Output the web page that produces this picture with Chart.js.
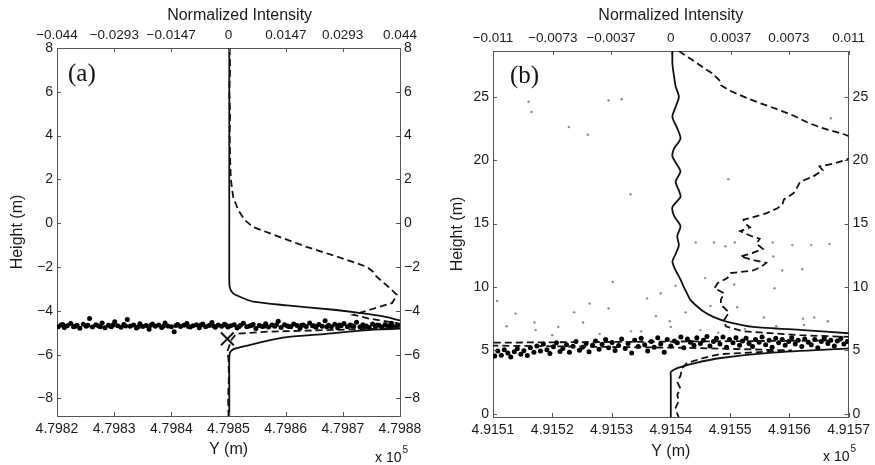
<!DOCTYPE html>
<html>
<head>
<meta charset="utf-8">
<script src="https://cdn.jsdelivr.net/npm/chart.js@4.4.1/dist/chart.umd.min.js"></script>
<style>
  body { margin: 0; background: #fff; }
  #wrap { position: relative; width: 875px; height: 465px; }
  canvas { position: absolute; top: 0; }
  #ca { left: 0; }
  #cb { left: 440px; }
</style>
</head>
<body>
<div id="wrap">
  <canvas id="ca" width="440" height="465"></canvas>
  <canvas id="cb" width="435" height="465"></canvas>
</div>
<script>
// ---- panel (a) ----
var aYTicks = [479820, 479830, 479840, 479850, 479860, 479870, 479880];
var aTopTicks = [-0.044, -0.0293, -0.0147, 0, 0.0147, 0.0293, 0.044];
var aHeightTicks = [-8, -6, -4, -2, 0, 2, 4, 6, 8];

// solid profile: height (m) / normalized intensity
var aSolidH = [8, 4, 0, -2, -2.9, -3.2, -3.4, -3.58, -3.75, -3.95, -4.1, -4.26, -4.44, -4.6, -4.75, -4.9, -5.05, -5.2, -5.4, -5.6, -5.75, -5.9, -6.2, -7, -8.8];
var aSolidI = [0.0002, 0.0002, 0.0002, 0.0002, 0.0003, 0.0012, 0.0035, 0.0063, 0.015, 0.027, 0.034, 0.04, 0.044, 0.047, 0.048, 0.034, 0.025, 0.015, 0.009, 0.0045, 0.0013, 0.0004, 0.0002, 0.0002, 0.0002];

// dashed profile
var aDashH = [8, 7, 6, 5, 4, 3, 2, 1.2, 0.6, 0.14, -0.17, -0.62, -1.08, -1.53, -1.99, -2.2, -2.44, -2.9, -3.27, -3.64, -3.95, -4.18, -4.35, -4.55, -4.7, -4.8, -4.88, -4.95, -5.05, -5.3, -5.6, -5.85, -6.2, -7, -8, -8.8];
var aDashI = [0.0003, 0.0004, 0.0002, 0.0004, 0.0003, 0.0004, 0.0006, 0.0012, 0.0025, 0.0042, 0.0063, 0.013, 0.02, 0.028, 0.0355, 0.037, 0.038, 0.041, 0.0432, 0.042, 0.0363, 0.032, 0.036, 0.043, 0.046, 0.04, 0.025, 0.01, 0.002, 0.0008, 0.0002, -0.0003, 0, 0.0001, -0.0001, 0];

// ground points: Y (m), height (m)
var aDots = [
  [479820.2, -4.72], [479820.7, -4.64], [479821.3, -4.76], [479821.8, -4.68], [479822.4, -4.58], [479822.9, -4.73], [479823.5, -4.66], [479824.0, -4.79],
  [479824.6, -4.61], [479825.1, -4.70], [479825.7, -4.35], [479826.2, -4.74], [479826.8, -4.63], [479827.3, -4.69], [479827.9, -4.56], [479828.4, -4.77],
  [479829.0, -4.66], [479829.5, -4.72], [479830.1, -4.50], [479830.6, -4.68], [479831.2, -4.75], [479831.7, -4.62], [479832.3, -4.40], [479832.8, -4.70],
  [479833.4, -4.65], [479833.9, -4.78], [479834.5, -4.59], [479835.0, -4.71], [479835.6, -4.67], [479836.1, -4.84], [479836.7, -4.60], [479837.2, -4.70],
  [479837.8, -4.64], [479838.3, -4.76], [479838.9, -4.55], [479839.4, -4.69], [479840.0, -4.73], [479840.5, -4.95], [479841.1, -4.62], [479841.6, -4.71],
  [479842.2, -4.66], [479842.7, -4.58], [479843.3, -4.74], [479843.8, -4.68], [479844.4, -4.63], [479844.9, -4.77], [479845.5, -4.60], [479846.0, -4.72],
  [479846.6, -4.67], [479847.1, -4.53], [479847.7, -4.75], [479848.2, -4.65], [479848.8, -4.70], [479849.3, -4.61], [479849.9, -4.74], [479850.4, -4.68],
  [479851.0, -4.63], [479851.5, -4.78], [479852.1, -4.66], [479852.6, -4.57], [479853.2, -4.72], [479853.7, -4.69], [479854.3, -4.62], [479854.8, -4.80],
  [479855.4, -4.67], [479855.9, -4.71], [479856.5, -4.59], [479857.0, -4.74], [479857.6, -4.65], [479858.1, -4.70], [479858.7, -4.48], [479859.2, -4.76],
  [479859.8, -4.63], [479860.3, -4.69], [479860.9, -4.73], [479861.4, -4.60], [479862.0, -4.67], [479862.5, -4.79], [479863.1, -4.64], [479863.6, -4.71],
  [479864.2, -4.56], [479864.7, -4.68], [479865.3, -4.75], [479865.8, -4.62], [479866.4, -4.70], [479866.9, -4.45], [479867.5, -4.66], [479868.0, -4.73],
  [479868.6, -4.61], [479869.1, -4.77], [479869.7, -4.68], [479870.2, -4.58], [479870.8, -4.72], [479871.3, -4.65], [479871.9, -4.70], [479872.4, -4.52],
  [479873.0, -4.74], [479873.5, -4.63], [479874.1, -4.69], [479874.6, -4.76], [479875.2, -4.60], [479875.7, -4.71], [479876.3, -4.66], [479876.8, -4.74],
  [479877.4, -4.62], [479877.9, -4.69], [479878.5, -4.57], [479879.0, -4.72], [479879.6, -4.66],
  [479821.0, -4.62], [479823.2, -4.70], [479825.4, -4.66], [479827.6, -4.73], [479829.8, -4.64], [479832.0, -4.69], [479834.2, -4.72], [479836.4, -4.66],
  [479838.6, -4.70], [479840.8, -4.67], [479843.0, -4.71], [479845.2, -4.64], [479847.4, -4.69], [479849.6, -4.66], [479851.8, -4.72], [479854.0, -4.67],
  [479856.2, -4.70], [479858.4, -4.63], [479860.6, -4.71], [479862.8, -4.66], [479865.0, -4.69], [479867.2, -4.72], [479869.4, -4.64], [479871.6, -4.68],
  [479873.8, -4.71], [479876.0, -4.65], [479878.2, -4.70]
];
var aMark = [[479849.8, -5.28]];

// ---- panel (b) ----
var bYTicks = [491510, 491520, 491530, 491540, 491550, 491560, 491570];
var bTopTicks = [-0.011, -0.0073, -0.0037, 0, 0.0037, 0.0073, 0.011];
var bHeightTicks = [0, 5, 10, 15, 20, 25];

var bSolidH = [28.6, 27.6, 26.6, 25.8, 25.0, 24.2, 23.4, 22.5, 21.7, 20.9, 20.3, 19.6, 19.1, 18.3, 17.6, 17.1, 16.3, 15.6, 14.8, 14.0, 13.3, 12.6, 12.0, 11.3, 10.6, 10.0, 9.5, 9.0, 8.5, 8.0, 7.6, 7.25, 6.85, 6.6, 6.35, 6.0, 5.6, 5.2, 4.8, 4.4, 4.0, 3.6, 3.3, 3.0, -0.3];
var bSolidI = [0.0001, 0.0001, 0.0002, 0.0003, 0.0005, 0.0003, 0.0001, 0.0004, 0.0006, 0.0002, 0.0001, 0.0004, 0.0006, 0.0003, 0.0005, 0.0006, 0.0001, 0.0002, 0.0006, 0.0004, 0.0005, 0.0003, 0.0001, 0.0003, 0.0006, 0.0008, 0.001, 0.0012, 0.0016, 0.0021, 0.0027, 0.0035, 0.0051, 0.0082, 0.011, 0.014, 0.015, 0.0115, 0.0061, 0.0031, 0.0015, 0.0004, 0, 0, 0];

var bDashH = [28.6, 28.0, 27.3, 26.8, 26.3, 25.9, 25.5, 25.0, 24.5, 24.0, 23.5, 23.0, 22.6, 22.0, 21.5, 21.0, 20.4, 20.0, 19.7, 19.5, 19.2, 18.7, 18.3, 17.8, 17.4, 16.9, 16.5, 16.2, 15.8, 15.5, 15.3, 15.0, 14.7, 14.4, 14.0, 13.8, 13.4, 13.0, 12.6, 12.4, 12.1, 11.9, 11.6, 11.3, 11.1, 10.7, 10.3, 9.9, 9.5, 9.0, 8.6, 8.0, 7.4, 6.9, 6.5, 6.2, 6.0, 5.8, 5.6, 5.4, 5.2, 5.0, 4.9, 4.7, 4.4, 4.0, 3.6, 3.0, 2.5, 2.0, 1.5, 1.0, 0.5, 0.0, -0.3];
var bDashI = [0.0005, 0.0012, 0.002, 0.0026, 0.003, 0.0031, 0.0036, 0.0045, 0.0055, 0.0066, 0.0076, 0.0084, 0.0092, 0.0108, 0.0118, 0.0125, 0.0115, 0.0108, 0.01, 0.0092, 0.0094, 0.0088, 0.008, 0.0078, 0.0076, 0.007, 0.0069, 0.0066, 0.0059, 0.0051, 0.0045, 0.0046, 0.0049, 0.0043, 0.005, 0.0055, 0.0053, 0.0057, 0.0049, 0.0043, 0.0052, 0.0059, 0.0056, 0.0051, 0.0037, 0.0035, 0.0029, 0.0027, 0.0033, 0.0031, 0.0031, 0.0036, 0.0033, 0.0034, 0.0045, 0.008, 0.0125, 0.013, -0.012, -0.0125, 0.001, 0.0075, 0.006, 0.003, 0.002, 0.001, 0.0007, 0.0006, 0.0004, 0.0006, 0.0004, 0.0005, 0.0003, 0.0004, 0.0005];

var bDots = [
  [491510.3, 4.55], [491510.8, 4.95], [491511.4, 4.62], [491511.9, 5.05], [491512.5, 4.80], [491513.0, 4.48], [491513.6, 4.90], [491514.1, 5.12],
  [491514.7, 4.70], [491515.2, 4.98], [491515.8, 4.60], [491516.3, 5.20], [491516.9, 4.85], [491517.4, 5.35], [491518.0, 4.95], [491518.5, 5.50],
  [491519.1, 5.05], [491519.6, 4.75], [491520.2, 5.28], [491520.7, 5.60], [491521.3, 4.92], [491521.8, 5.15], [491522.4, 5.45], [491522.9, 4.85],
  [491523.5, 5.32], [491524.0, 5.70], [491524.6, 5.02], [491525.1, 5.25], [491525.7, 5.55], [491526.2, 4.90], [491526.8, 5.40], [491527.3, 5.75],
  [491527.9, 5.10], [491528.4, 5.48], [491529.0, 5.85], [491529.5, 5.20], [491530.1, 5.62], [491530.6, 5.00], [491531.2, 5.38], [491531.7, 5.90],
  [491532.3, 5.15], [491532.8, 5.55], [491533.4, 4.80], [491533.9, 5.80], [491534.5, 5.30], [491535.0, 5.95], [491535.6, 5.45], [491536.1, 4.95],
  [491536.7, 5.70], [491537.2, 5.25], [491537.8, 6.00], [491538.3, 5.50], [491538.9, 4.85], [491539.4, 5.85], [491540.0, 5.35], [491540.6, 5.75],
  [491541.1, 5.60], [491541.7, 6.05], [491542.2, 5.20], [491542.8, 5.90], [491543.3, 5.65], [491543.9, 5.40], [491544.4, 6.00], [491545.0, 5.55],
  [491545.5, 5.80], [491546.1, 6.10], [491546.6, 5.35], [491547.2, 5.70], [491547.7, 5.95], [491548.3, 5.50], [491548.8, 6.05], [491549.4, 5.25],
  [491549.9, 5.85], [491550.5, 5.60], [491551.0, 6.00], [491551.6, 5.40], [491552.1, 5.75], [491552.7, 5.95], [491553.2, 5.55], [491553.8, 5.30],
  [491554.3, 5.85], [491554.9, 5.65], [491555.4, 6.05], [491556.0, 5.45], [491556.6, 5.80], [491557.1, 5.25], [491557.7, 5.95], [491558.2, 5.60],
  [491558.8, 5.85], [491559.3, 5.40], [491559.9, 5.70], [491560.4, 6.00], [491561.0, 5.50], [491561.5, 5.80], [491562.1, 5.30], [491562.6, 5.90],
  [491563.2, 5.65], [491563.7, 5.45], [491564.3, 5.85], [491564.8, 5.20], [491565.4, 5.70], [491565.9, 5.95], [491566.5, 5.55], [491567.0, 5.80],
  [491567.6, 5.35], [491568.1, 5.75], [491568.7, 5.95], [491569.2, 5.50], [491569.8, 5.70]
];

var bGray = [
  [491516.0, 24.6], [491516.5, 23.8], [491529.5, 24.7], [491531.7, 24.8], [491567.0, 23.3], [491522.8, 22.6], [491526.0, 22.0],
  [491533.2, 17.3], [491549.7, 18.5], [491544.2, 13.5], [491547.3, 13.5], [491549.2, 13.2], [491550.8, 13.5], [491557.2, 13.5],
  [491560.5, 13.3], [491563.7, 13.3], [491566.8, 13.4], [491557.3, 12.4], [491558.8, 11.3], [491562.2, 11.4], [491530.2, 10.4],
  [491545.8, 10.7], [491550.7, 10.2], [491540.8, 10.1], [491557.5, 9.9], [491510.7, 8.9], [491536.0, 9.1], [491538.3, 9.5],
  [491526.3, 8.7], [491529.5, 8.3], [491513.8, 7.9], [491523.7, 8.0], [491542.5, 8.0], [491551.2, 8.4], [491546.7, 8.5],
  [491512.3, 6.9], [491517.0, 7.2], [491517.2, 6.6], [491521.0, 6.85], [491525.2, 7.2], [491533.3, 6.5], [491535.0, 6.5],
  [491537.5, 7.7], [491539.8, 7.3], [491540.0, 6.85], [491555.7, 7.6], [491557.8, 6.9], [491562.3, 7.5], [491562.5, 7.0],
  [491564.2, 7.6], [491566.5, 7.3], [491545.0, 6.6], [491548.0, 6.4], [491552.5, 6.7], [491528.0, 6.3], [491520.0, 6.2]
];

Chart.defaults.font.family = '"Liberation Sans", Arial, sans-serif';
Chart.defaults.color = '#1a1a1a';

function profile(h, v) {
  return h.map(function (y, i) { return { x: v[i], y: y }; });
}
function pts(list) {
  return list.map(function (p) { return { x: p[0], y: p[1] }; });
}
function fixTicks(values) {
  return function (scale) {
    scale.ticks = values.map(function (v) { return { value: v }; });
  };
}
function minus(v) {
  return v === 0 ? '0' : String(v).replace('-', '\u2212');
}

// inward tick marks, panel letter and the x 10^5 exponent
var frameMarks = {
  id: 'frameMarks',
  afterDraw: function (chart, args, o) {
    var ctx = chart.ctx, a = chart.chartArea;
    ctx.save();
    ctx.strokeStyle = '#555';
    ctx.lineWidth = 1;
    [['x', a.bottom, -1], ['x2', a.top, 1]].forEach(function (d) {
      var s = chart.scales[d[0]];
      s.ticks.forEach(function (t) {
        var p = Math.round(s.getPixelForValue(t.value)) + 0.5;
        ctx.beginPath();
        ctx.moveTo(p, d[1]);
        ctx.lineTo(p, d[1] + d[2] * 4);
        ctx.stroke();
      });
    });
    [['y', a.left, 1], ['y2', a.right, -1]].forEach(function (d) {
      var s = chart.scales[d[0]];
      s.ticks.forEach(function (t) {
        var p = Math.round(s.getPixelForValue(t.value)) + 0.5;
        ctx.beginPath();
        ctx.moveTo(d[1], p);
        ctx.lineTo(d[1] + d[2] * 4, p);
        ctx.stroke();
      });
    });
    ctx.fillStyle = '#111';
    ctx.textBaseline = 'alphabetic';
    ctx.font = '25px "Liberation Serif", "Times New Roman", serif';
    ctx.fillText(o.panel, o.px, o.py);
    ctx.font = '14px "Liberation Sans", Arial, sans-serif';
    ctx.fillText('x 10', o.ex, o.ey);
    var w = ctx.measureText('x 10').width;
    ctx.font = '10px "Liberation Sans", Arial, sans-serif';
    ctx.fillText('5', o.ex + w + 1, o.ey - 9);
    ctx.restore();
  }
};

function makePanel(id, c) {
  var lbl = { size: 14 };
  var ttl = { size: 16 };
  var common = {
    grid: { drawOnChartArea: false, drawTicks: false },
    border: { color: '#555', width: 1 }
  };
  new Chart(document.getElementById(id), {
    type: 'scatter',
    data: {
      datasets: [
        { data: profile(c.solidH, c.solidI), xAxisID: 'x2', yAxisID: 'y', showLine: true, pointRadius: 0,
          borderColor: '#111', borderWidth: 1.8, tension: 0.25 },
        { data: profile(c.dashH, c.dashI), xAxisID: 'x2', yAxisID: 'y', showLine: true, pointRadius: 0,
          borderColor: '#111', borderWidth: 1.8, borderDash: [7, 4], tension: 0 },
        { data: pts(c.mark || []), xAxisID: 'x', yAxisID: 'y', pointStyle: 'crossRot', pointRadius: 9,
          borderColor: '#111', borderWidth: 2 },
        { data: pts(c.dots), xAxisID: 'x', yAxisID: 'y', pointRadius: 2.5, borderWidth: 0,
          backgroundColor: '#000' },
        { data: pts(c.gray || []), xAxisID: 'x', yAxisID: 'y', pointRadius: 1.2, borderWidth: 0,
          backgroundColor: '#8a8a8a' }
      ]
    },
    options: {
      responsive: false,
      animation: false,
      layout: { padding: 0 },
      plugins: {
        legend: { display: false },
        tooltip: { enabled: false },
        frameMarks: c.marks
      },
      scales: {
        x: Object.assign({}, common, {
          type: 'linear', position: 'bottom', min: c.xTicks[0], max: c.xTicks[c.xTicks.length - 1],
          afterBuildTicks: fixTicks(c.xTicks),
          afterFit: function (s) { s.height = c.bottom; },
          ticks: { font: lbl, padding: 5, autoSkip: false, maxRotation: 0,
            callback: function (v) { return (v / 1e5).toFixed(4); } },
          title: { display: true, text: 'Y (m)', font: ttl, padding: { top: 0, bottom: c.yTitlePad } }
        }),
        x2: Object.assign({}, common, {
          type: 'linear', axis: 'x', position: 'top', min: c.topTicks[0], max: c.topTicks[c.topTicks.length - 1],
          afterBuildTicks: fixTicks(c.topTicks),
          afterFit: function (s) { s.height = c.top; },
          ticks: { font: { size: 13.5 }, padding: 5, autoSkip: false, maxRotation: 0, callback: minus },
          title: { display: true, text: c.topTitle, font: ttl, padding: { top: 6, bottom: 0 } }
        }),
        y: Object.assign({}, common, {
          type: 'linear', position: 'left', min: c.hMin, max: c.hMax,
          afterBuildTicks: fixTicks(c.hTicks),
          afterFit: function (s) { s.width = c.left; },
          ticks: { font: lbl, padding: 4, autoSkip: false, callback: minus },
          title: { display: true, text: 'Height (m)', font: ttl, padding: { top: 8, bottom: 0 } }
        }),
        y2: Object.assign({}, common, {
          type: 'linear', axis: 'y', position: 'right', min: c.hMin, max: c.hMax,
          afterBuildTicks: fixTicks(c.hTicks),
          afterFit: function (s) { s.width = c.right; },
          ticks: { font: lbl, padding: 4, autoSkip: false, callback: minus }
        })
      }
    },
    plugins: [frameMarks]
  });
}

makePanel('ca', {
  solidH: aSolidH, solidI: aSolidI, dashH: aDashH, dashI: aDashI,
  dots: aDots, mark: aMark,
  xTicks: aYTicks, topTicks: aTopTicks, hTicks: aHeightTicks, hMin: -8.8, hMax: 8,
  left: 57, right: 40, top: 48, bottom: 49, yTitlePad: 6,
  topTitle: '\u00a0\u00a0\u00a0\u00a0\u00a0Normalized Intensity',
  marks: { panel: '(a)', px: 68, py: 81, ex: 375, ey: 462 }
});

makePanel('cb', {
  solidH: bSolidH, solidI: bSolidI, dashH: bDashH, dashI: bDashI,
  dots: bDots, gray: bGray,
  xTicks: bYTicks, topTicks: bTopTicks, hTicks: bHeightTicks, hMin: -0.25, hMax: 28.6,
  left: 53, right: 22, top: 51, bottom: 48, yTitlePad: 4,
  topTitle: 'Normalized Intensity',
  marks: { panel: '(b)', px: 70, py: 83, ex: 383, ey: 461 }
});
</script>
</body>
</html>
